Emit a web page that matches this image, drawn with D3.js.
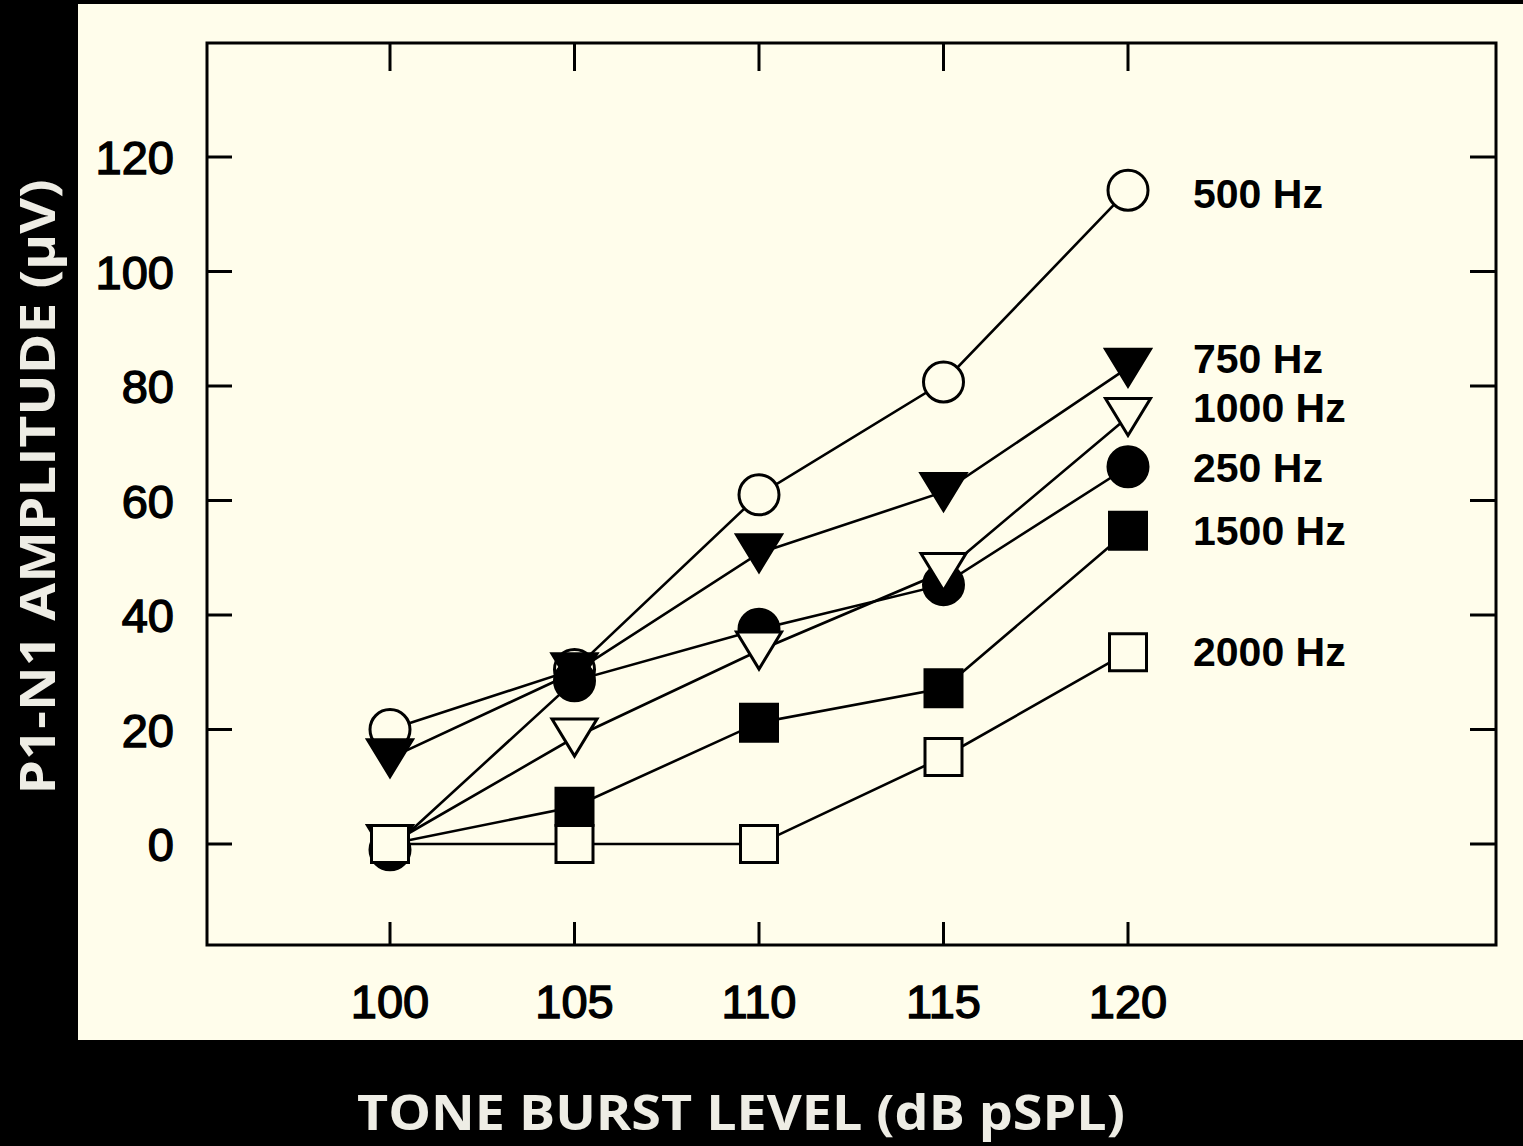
<!DOCTYPE html>
<html>
<head>
<meta charset="utf-8">
<script src="https://cdn.jsdelivr.net/npm/d3@7"></script>
<style>
  html, body { margin: 0; padding: 0; background: #000; }
  svg { display: block; }
</style>
</head>
<body>
<div id="chart"></div>
<script>
// tone burst levels (dB pSPL)
var levels = [100, 105, 110, 115, 120];

// P1-N1 amplitude (uV)
var hz500  = [20, 30.5, 61, 80.7, 114.2];
var hz750  = [15, 30, 50.8, 61.5, 83.2];
var hz250  = [-1, 28.5, 37.5, 45.3, 65.9];
var hz1000 = [0, 18.6, 33.8, 47.5, 74.6];
var hz1500 = [0, 6.5, 21.2, 27.2, 54.7];
var hz2000 = [0, 0, 0, 15.2, 33.5];

var seriesNames = ["500 Hz", "750 Hz", "250 Hz", "1000 Hz", "1500 Hz", "2000 Hz"];
var seriesValues = [hz500, hz750, hz250, hz1000, hz1500, hz2000];
var seriesMarkers = ["circle", "triangle", "circle", "triangle", "square", "square"];
var seriesFilled = [false, true, true, false, true, false];
// where each label sits, in amplitude units
var labelAt = [113.7, 84.8, 65.8, 76.2, 54.8, 33.6];

var yTicks = [0, 20, 40, 60, 80, 100, 120];
var xTicks = [100, 105, 110, 115, 120];

var W = 1523, H = 1146;
var cream = "#fffdeb";
var frame = {left: 207, right: 1496, top: 43, bottom: 945};

var svg = d3.select("#chart").append("svg")
  .attr("width", W).attr("height", H);

svg.append("rect").attr("width", W).attr("height", H).attr("fill", "#000");
svg.append("rect")
  .attr("x", 78).attr("y", 4)
  .attr("width", W - 78).attr("height", 1036)
  .attr("fill", cream);

var x = d3.scaleLinear().domain([100, 120]).range([390, 1128]);
var y = d3.scaleLinear().domain([0, 120]).range([844, 157]);

// frame
svg.append("rect")
  .attr("x", frame.left).attr("y", frame.top)
  .attr("width", frame.right - frame.left)
  .attr("height", frame.bottom - frame.top)
  .attr("fill", "none").attr("stroke", "#000").attr("stroke-width", 3);

// inward ticks, all four sides
var ticks = svg.append("g").attr("stroke", "#000").attr("stroke-width", 3);
yTicks.forEach(function (t) {
  ticks.append("line").attr("x1", frame.left).attr("x2", frame.left + 25)
    .attr("y1", y(t)).attr("y2", y(t));
  ticks.append("line").attr("x1", frame.right).attr("x2", frame.right - 26)
    .attr("y1", y(t)).attr("y2", y(t));
});
xTicks.forEach(function (t) {
  ticks.append("line").attr("x1", x(t)).attr("x2", x(t))
    .attr("y1", frame.bottom).attr("y2", frame.bottom - 23);
  ticks.append("line").attr("x1", x(t)).attr("x2", x(t))
    .attr("y1", frame.top).attr("y2", frame.top + 28);
});

// tick labels
svg.append("g").selectAll("text")
  .data(yTicks).enter().append("text")
  .attr("x", 174).attr("y", function (d) { return y(d) + 17; })
  .attr("text-anchor", "end")
  .attr("font-family", "Liberation Sans, Arial, sans-serif")
  .attr("font-size", 47)
  .attr("stroke", "#000").attr("stroke-width", 1.4)
  .attr("fill", "#000")
  .text(function (d) { return d; });

svg.append("g").selectAll("text")
  .data(xTicks).enter().append("text")
  .attr("x", function (d) { return x(d); }).attr("y", 1018)
  .attr("text-anchor", "middle")
  .attr("font-family", "Liberation Sans, Arial, sans-serif")
  .attr("font-size", 47)
  .attr("stroke", "#000").attr("stroke-width", 1.4)
  .attr("fill", "#000")
  .text(function (d) { return d; });

// lines
var line = d3.line()
  .x(function (d, i) { return x(levels[i]); })
  .y(function (d) { return y(d); });

svg.append("g").selectAll("path")
  .data(seriesValues).enter().append("path")
  .attr("d", line)
  .attr("fill", "none").attr("stroke", "#000").attr("stroke-width", 2.6);

// markers
function markerPath(kind, cx, cy) {
  if (kind === "circle") {
    var r = 20;
    return "M" + (cx - r) + "," + cy + "a" + r + "," + r + " 0 1,0 " + (2 * r) + ",0" +
      "a" + r + "," + r + " 0 1,0 " + (-2 * r) + ",0Z";
  }
  if (kind === "square") {
    var s = 18.5;
    return "M" + (cx - s) + "," + (cy - s) + "h" + (2 * s) + "v" + (2 * s) + "h" + (-2 * s) + "Z";
  }
  // downward triangle
  var hw = 22.5, hh = 18.5;
  return "M" + (cx - hw) + "," + (cy - hh) + "L" + (cx + hw) + "," + (cy - hh) +
    "L" + cx + "," + (cy + hh) + "Z";
}

seriesValues.forEach(function (vals, k) {
  svg.append("g").selectAll("path")
    .data(vals).enter().append("path")
    .attr("d", function (d, i) { return markerPath(seriesMarkers[k], x(levels[i]), y(d)); })
    .attr("fill", seriesFilled[k] ? "#000" : cream)
    .attr("stroke", "#000").attr("stroke-width", 3)
    .attr("stroke-linejoin", "miter");
});

// series labels
svg.append("g").selectAll("text")
  .data(seriesNames).enter().append("text")
  .attr("x", 1193).attr("y", function (d, i) { return y(labelAt[i]) + 14.5; })
  .attr("font-family", "Liberation Sans, Arial, sans-serif")
  .attr("font-weight", "bold")
  .attr("font-size", 41)
  .attr("fill", "#000")
  .text(function (d) { return d; });

// axis titles
svg.append("text")
  .attr("x", 741).attr("y", 1130)
  .attr("text-anchor", "middle")
  .attr("font-family", "Open Sans, sans-serif")
  .attr("font-weight", "bold")
  .attr("font-size", 49)
  .attr("fill", "#eeede5")
  .attr("textLength", 768).attr("lengthAdjust", "spacingAndGlyphs")
  .text("TONE BURST LEVEL (dB pSPL)");

svg.append("text")
  .attr("transform", "translate(55,487) rotate(-90)")
  .attr("text-anchor", "middle")
  .attr("font-family", "Open Sans, sans-serif")
  .attr("font-weight", "bold")
  .attr("font-size", 49)
  .attr("fill", "#eeede5")
  .attr("textLength", 615).attr("lengthAdjust", "spacingAndGlyphs")
  .text("P1-N1 AMPLITUDE (μV)");
</script>
</body>
</html>
